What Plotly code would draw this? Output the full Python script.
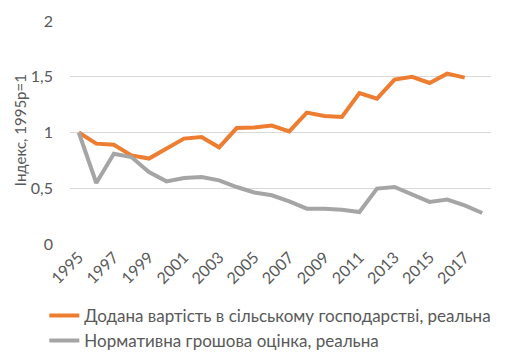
import plotly.graph_objects as go

years = list(range(1995, 2019))
value_added = [1.0, 0.90, 0.89, 0.795, 0.766, 0.855, 0.945, 0.96, 0.867, 1.04,
               1.044, 1.062, 1.01, 1.178, 1.148, 1.139, 1.354, 1.304, 1.474, 1.50,
               1.444, 1.528, 1.492, None]
land_value = [1.0, 0.547, 0.81, 0.78, 0.646, 0.562, 0.592, 0.60, 0.571, 0.511,
              0.462, 0.437, 0.383, 0.317, 0.317, 0.308, 0.287, 0.497, 0.511, 0.446,
              0.377, 0.398, 0.347, 0.278]
tick_years = list(range(1995, 2019, 2))
name1 = "Додана вартість в сільському господарстві, реальна"
name2 = "Нормативна грошова оцінка, реальна"
y_title = "Індекс, 1995р=1"

font_fam = "Lato, Carlito, Calibri, sans-serif"
txt = "#595959"

fig = go.Figure()
fig.add_trace(go.Scatter(x=years, y=value_added, mode="lines", name=name1,
                         line=dict(color="#ED7D31", width=4), connectgaps=False))
fig.add_trace(go.Scatter(x=years, y=land_value, mode="lines", name=name2,
                         line=dict(color="#A5A5A5", width=4)))

fig.update_layout(
    width=520, height=354,
    margin=dict(l=70, r=29, t=21, b=110, autoexpand=False),
    paper_bgcolor="white", plot_bgcolor="white",
    separators=", ",
    font=dict(family=font_fam, size=14, color=txt),
    showlegend=True,
    legend=dict(orientation="v",
                x=-0.061, y=-0.242, xanchor="left", yanchor="top",
                font=dict(size=17, color=txt), tracegroupgap=0,
                bgcolor="rgba(0,0,0,0)"),
    annotations=[dict(text=y_title, xref="paper", yref="paper",
                      x=-0.119, y=0.51, xanchor="center", yanchor="middle",
                      textangle=-90, showarrow=False,
                      font=dict(size=15, color=txt))],
)
fig.update_xaxes(range=[1994.5, 2018.5], tickvals=tick_years,
                 ticktext=[str(y) for y in tick_years], tickangle=-45,
                 showgrid=False, zeroline=False, showline=False,
                 tickfont=dict(size=16, color=txt))
fig.update_yaxes(range=[0, 2], tickvals=[0, 0.5, 1, 1.5, 2],
                 ticktext=["0", "0,5", "1", "1,5", "2"],
                 showgrid=True, gridcolor="#D9D9D9", gridwidth=1,
                 zeroline=False, showline=False, ticklabelstandoff=16,
                 tickfont=dict(size=16, color=txt))

fig.write_html("out.html")
